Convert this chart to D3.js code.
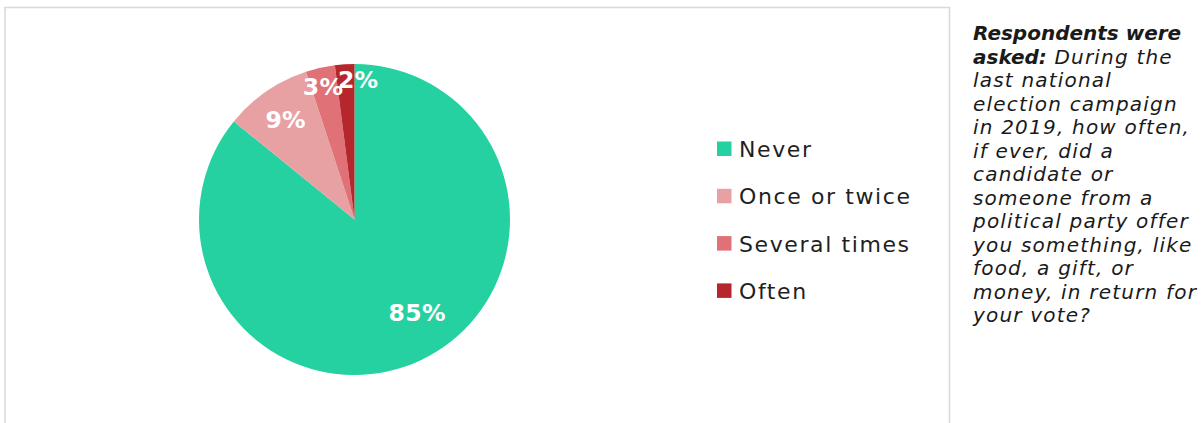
<!DOCTYPE html>
<html>
<head>
<meta charset="utf-8">
<script src="https://cdn.jsdelivr.net/npm/d3@7"></script>
<style>
  html, body { margin: 0; padding: 0; background: #ffffff; }
  svg { display: block; }
</style>
</head>
<body>
<svg id="chart" width="1203" height="423"></svg>
<script>
// Survey answers: how often a vote-buying offer was made
const categories = ["Never", "Once or twice", "Several times", "Often"];
const shares = [85, 9, 3, 2];
const colors = ["#25d1a0", "#e8a1a3", "#e07177", "#b5272d"];

// Question wording, one entry per line; bold lead-in marked separately
const questionLines = [
  { bold: "Respondents were", rest: "" },
  { bold: "asked:", rest: " During the" },
  { bold: "", rest: "last national" },
  { bold: "", rest: "election campaign" },
  { bold: "", rest: "in 2019, how often," },
  { bold: "", rest: "if ever, did a" },
  { bold: "", rest: "candidate or" },
  { bold: "", rest: "someone from a" },
  { bold: "", rest: "political party offer" },
  { bold: "", rest: "you something, like" },
  { bold: "", rest: "food, a gift, or" },
  { bold: "", rest: "money, in return for" },
  { bold: "", rest: "your vote?" }
];

const svg = d3.select("#chart");
const W = 1203, H = 423;

// Chart frame
svg.append("path")
  .attr("d", `M5,${H + 5} L5,7.5 L949.5,7.5 L949.5,${H + 5}`)
  .attr("fill", "none")
  .attr("stroke", "#d9d9d9")
  .attr("stroke-width", 1.5);

// Pie
const cx = 354.5, cy = 219.5, R = 155.5;
const data = categories.map((c, i) => ({ name: c, value: shares[i], color: colors[i] }));
const pie = d3.pie().value(d => d.value).sort(null);
const arcs = pie(data);
const arc = d3.arc().innerRadius(0).outerRadius(R);

const g = svg.append("g").attr("transform", `translate(${cx},${cy})`);
g.selectAll("path.slice")
  .data(arcs)
  .join("path")
  .attr("class", "slice")
  .attr("d", arc)
  .attr("fill", d => d.data.color);

// Data labels: radial distance and angular nudge for each slice label
const labelLayout = [
  { r: 0.72, da: -0.15 },
  { r: 0.78, da: 0 },
  { r: 0.88, da: -0.01 },
  { r: 0.90, da: 0.09 }
];
g.selectAll("text.lbl")
  .data(arcs)
  .join("text")
  .attr("class", "lbl")
  .attr("transform", (d, i) => {
    const a = (d.startAngle + d.endAngle) / 2 + labelLayout[i].da;
    const rr = R * labelLayout[i].r;
    return `translate(${rr * Math.sin(a)},${-rr * Math.cos(a)})`;
  })
  .attr("text-anchor", "middle")
  .attr("dy", "0.36em")
  .attr("fill", "#ffffff")
  .style("font-family", "'DejaVu Sans', sans-serif")
  .style("font-weight", "bold")
  .style("font-size", "23.5px")
  .style("letter-spacing", "0.3px")
  .text(d => d.data.value + "%");

// Legend
const legend = svg.append("g").attr("transform", "translate(717,149)");
const rowH = 47.3;
const item = legend.selectAll("g.item")
  .data(data)
  .join("g")
  .attr("class", "item")
  .attr("transform", (d, i) => `translate(0,${i * rowH})`);
item.append("rect")
  .attr("x", 0).attr("y", -7.5)
  .attr("width", 14.5).attr("height", 14.5)
  .attr("fill", d => d.color);
item.append("text")
  .attr("x", 22)
  .attr("dy", "0.36em")
  .attr("fill", "#1f1f1f")
  .style("font-family", "'DejaVu Sans', sans-serif")
  .style("font-size", "22px")
  .style("letter-spacing", "1.6px")
  .text(d => d.name);

// Question text
const q = svg.append("text")
  .attr("fill", "#1a1a1a")
  .style("font-family", "'DejaVu Sans', sans-serif")
  .style("font-style", "italic")
  .style("font-size", "20px");
questionLines.forEach((ln, i) => {
  const y = 40 + i * 23.5;
  if (ln.bold) {
    q.append("tspan").attr("x", 973).attr("y", y)
      .style("font-weight", "bold")
      .text(ln.bold);
    if (ln.rest) q.append("tspan").style("letter-spacing", "1.2px").text(ln.rest);
  } else {
    q.append("tspan").attr("x", 973).attr("y", y)
      .style("letter-spacing", "1.2px")
      .text(ln.rest);
  }
});
</script>
</body>
</html>
